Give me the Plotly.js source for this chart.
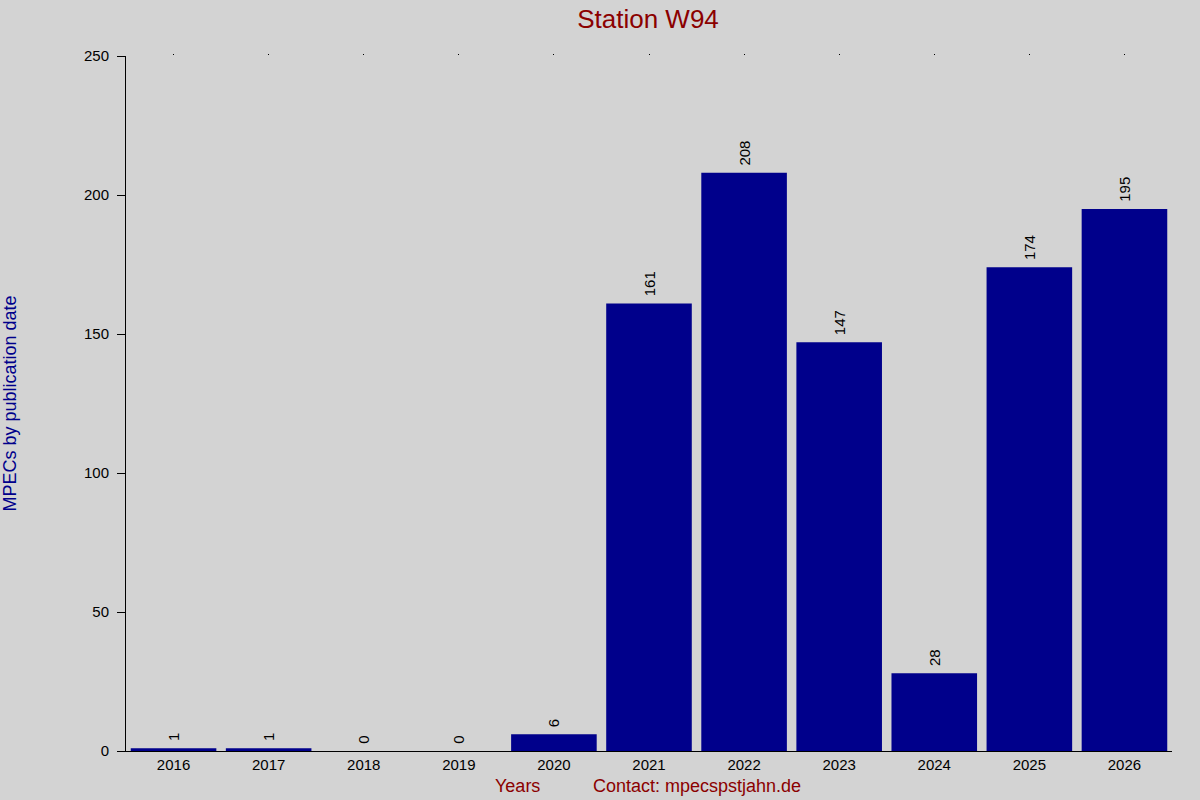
<!DOCTYPE html>
<html>
<head>
<meta charset="utf-8">
<script src="https://cdn.plot.ly/plotly-3.0.1.min.js"></script>
<style>body{margin:0;background:#d3d3d3}</style>
</head>
<body>
<div id="chart" style="width:1200px;height:800px"></div>
<script>
var years = ['2016','2017','2018','2019','2020','2021','2022','2023','2024','2025','2026'];
var mpecs = [1, 1, 0, 0, 6, 161, 208, 147, 28, 174, 195];
var yTicks = [0, 50, 100, 150, 200, 250];

var bars = {
  x: years,
  y: mpecs,
  type: 'bar',
  marker: {color: '#00008b'},
  text: mpecs.map(function (v) { return '\u00a0' + v; }),
  textposition: 'outside',
  textangle: -90,
  cliponaxis: false,
  textfont: {family: 'Liberation Sans, Arial', size: 15, color: '#000'},
  hoverinfo: 'none'
};

// invisible trace so the top category dots get drawn
var topDots = {
  x: years,
  y: mpecs,
  xaxis: 'x2',
  type: 'bar',
  marker: {color: 'rgba(0,0,0,0)'},
  hoverinfo: 'none',
  showlegend: false
};

var layout = {
  width: 1200,
  height: 800,
  paper_bgcolor: '#d3d3d3',
  plot_bgcolor: '#d3d3d3',
  showlegend: false,
  bargap: 0.1,
  font: {family: 'Liberation Sans, Arial', size: 15, color: '#000'},
  margin: {l: 126, r: 28, t: 56, b: 49, pad: 0},
  title: {
    text: 'Station W94',
    font: {size: 26, color: '#8b0000'},
    x: 0.54, xanchor: 'center', y: 0.977, yanchor: 'middle'
  },
  xaxis: {
    type: 'category',
    range: [-0.5, 10.5],
    showline: true, linecolor: '#000', linewidth: 1,
    ticks: '', showgrid: false, zeroline: false,
    tickfont: {size: 15}
  },
  xaxis2: {
    type: 'category',
    overlaying: 'x',
    side: 'top',
    range: [-0.5, 10.5],
    ticks: 'outside', ticklen: 1, tickcolor: '#000',
    showticklabels: false, showgrid: false, showline: false, zeroline: false
  },
  yaxis: {
    range: [0, 250],
    tickvals: yTicks,
    showline: true, linecolor: '#000', linewidth: 1,
    ticks: 'outside', ticklen: 8, tickcolor: '#000',
    ticklabelstandoff: 5,
    showgrid: false, zeroline: false,
    tickfont: {size: 15},
    title: {text: 'MPECs by publication date', font: {size: 18, color: '#00008b'}, standoff: 68}
  },
  annotations: [
    {text: 'Years', xref: 'paper', yref: 'paper', x: (517 - 126) / 1046, y: -49 / 695, yshift: 14,
     xanchor: 'center', yanchor: 'middle', showarrow: false, font: {size: 18, color: '#8b0000'}},
    {text: 'Contact: mpecspstjahn.de', xref: 'paper', yref: 'paper', x: (697 - 126) / 1046, y: -49 / 695, yshift: 14,
     xanchor: 'center', yanchor: 'middle', showarrow: false, font: {size: 18, color: '#8b0000'}}
  ]
};

Plotly.newPlot('chart', [bars, topDots], layout, {staticPlot: true});
</script>
</body>
</html>
